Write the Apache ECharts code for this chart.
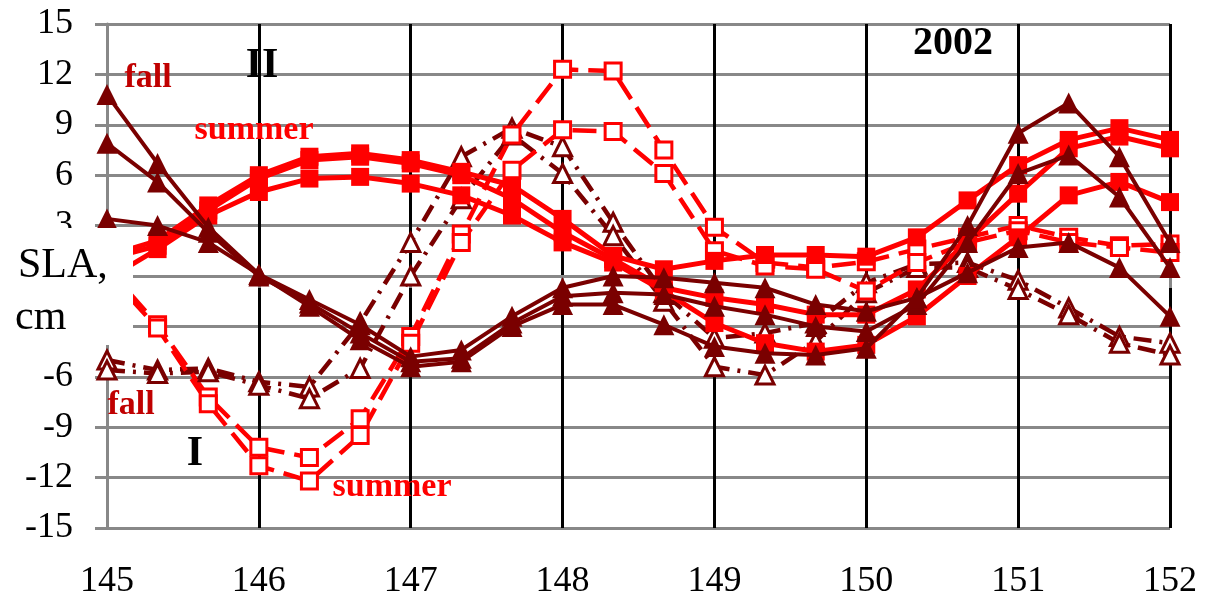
<!DOCTYPE html>
<html>
<head>
<meta charset="utf-8">
<script src="https://cdn.jsdelivr.net/npm/echarts@6/dist/echarts.min.js"></script>
<style>
html,body{margin:0;padding:0;background:#fff;}
#chart{width:1220px;height:602px;}
</style>
</head>
<body>
<div id="chart"></div>
<script>
// Longitude positions (every 1/3 degree)
const xs = [145,145.333,145.667,146,146.333,146.667,147,147.333,147.667,148,148.333,148.667,149,149.333,149.667,150,150.333,150.667,151,151.333,151.667,152];
const yTicks = [-15,-12,-9,-6,-3,0,3,6,9,12,15];

// Group II, fall (solid, filled triangles)
const fallII_1 = [10.8,6.7,2.9,0.1,-1.4,-2.9,-4.8,-4.4,-2.4,-0.7,0.0,-0.1,-0.4,-0.7,-1.7,-2.1,-1.3,3.0,8.5,10.3,7.1,2.0];
const fallII_2 = [7.9,5.6,2.6,0.0,-1.6,-3.4,-5.1,-4.9,-2.8,-1.2,-1.0,-1.1,-1.8,-2.3,-3.0,-3.3,-1.7,2.0,6.1,7.2,4.7,0.5];
const fallII_3 = [3.4,3.0,2.0,0.1,-1.8,-3.8,-5.4,-5.1,-3.0,-1.7,-1.7,-2.9,-4.2,-4.6,-4.7,-4.3,-1.3,0.2,1.7,2.0,0.5,-2.4];

// Group II, summer (solid, filled squares)
const sumII_1 = [1.2,2.1,4.2,6.0,7.1,7.3,6.9,6.2,5.4,3.4,1.2,0.4,0.9,1.25,1.25,1.15,2.3,4.5,6.6,8.1,8.8,8.1];
const sumII_2 = [1.0,1.8,3.9,5.8,6.9,7.1,6.7,6.0,4.6,2.6,1.0,-0.7,-1.3,-1.7,-2.3,-2.3,-0.8,2.1,4.9,7.6,8.3,7.6];
const sumII_3 = [-0.2,1.6,3.6,5.0,5.8,5.9,5.5,4.8,3.6,2.0,0.8,-0.9,-2.8,-4.0,-4.5,-4.1,-2.4,0.0,2.3,4.8,5.6,4.4];

// Group I, summer (dashed, open squares)
const sumI_1 = [0.5,-2.9,-7.2,-10.2,-10.8,-8.5,-3.6,2.5,8.4,12.3,12.2,7.5,2.9,0.8,0.5,0.85,1.6,2.3,3.0,2.3,1.8,1.9];
const sumI_2 = [0.2,-3.1,-7.6,-11.3,-12.2,-9.5,-4.0,2.0,6.3,8.7,8.6,6.1,1.5,0.6,0.4,-0.9,0.8,2.0,2.7,2.0,1.7,1.4];

// Group I, fall (dash-dot, open triangles)
const fallI_1 = [-5.0,-5.6,-5.5,-6.3,-6.6,-2.8,2.0,7.1,8.8,7.7,3.2,-1.0,-3.7,-3.4,-2.8,-0.4,0.7,0.8,-0.25,-1.9,-3.6,-4.0];
const fallI_2 = [-5.6,-5.8,-5.7,-6.5,-7.3,-5.5,0.0,4.6,8.4,6.1,2.4,-1.5,-5.4,-5.9,-3.9,-1.0,0.5,0.5,-0.8,-2.3,-4.0,-4.7];

const RED = '#ff0000';
const DARK = '#7a0000';
const LABELRED = '#c00000';

function pts(arr){ return xs.map((x,i)=>[x, arr[i]]); }

function fallII(arr){
  return {type:'line', data:pts(arr), symbol:'triangle', symbolSize:21,
    lineStyle:{color:DARK,width:4}, itemStyle:{color:DARK}, z:5, animation:false};
}
function sumII(arr){
  return {type:'line', data:pts(arr), symbol:'rect', symbolSize:18,
    lineStyle:{color:RED,width:5}, itemStyle:{color:RED}, z:4, animation:false};
}
function sumI(arr){
  return {type:'line', data:pts(arr), symbol:'rect', symbolSize:16,
    lineStyle:{color:RED,width:4.5,type:[24,10]}, itemStyle:{color:'#fff',borderColor:RED,borderWidth:3}, z:3, animation:false};
}
function fallI(arr){
  return {type:'line', data:pts(arr), symbol:'triangle', symbolSize:18,
    lineStyle:{color:DARK,width:4.5,type:[18,8,3,8]}, itemStyle:{color:'#fff',borderColor:DARK,borderWidth:3}, z:3, animation:false};
}

const chart = echarts.init(document.getElementById('chart'));
const serif = '"Liberation Serif", "Times New Roman", serif';
const option = {
  animation:false,
  backgroundColor:'#fff',
  grid:{left:107, right:50, top:24, bottom:74, containLabel:false},
  xAxis:{type:'value', min:145, max:152, interval:1,
    axisLine:{show:true, lineStyle:{color:'#888', width:3}},
    axisTick:{show:true, length:12, lineStyle:{color:'#888', width:3}},
    axisLabel:{fontFamily:serif, fontSize:36, color:'#000', margin:36},
    splitLine:{show:true, lineStyle:{color:['#888','#000','#000','#000','#000','#000','#000','#000'], width:3}}
  },
  yAxis:{type:'value', min:-15, max:15, interval:3,
    axisLine:{show:true, lineStyle:{color:'#888', width:3}},
    axisTick:{show:true, length:12, lineStyle:{color:'#888', width:3}},
    axisLabel:{fontFamily:serif, fontSize:36, color:'#000', margin:34},
    splitLine:{show:true, lineStyle:{color:'#888', width:3}}
  },
  series:[
    fallI(fallI_1), fallI(fallI_2),
    sumI(sumI_1), sumI(sumI_2),
    sumII(sumII_1), sumII(sumII_2), sumII(sumII_3),
    fallII(fallII_1), fallII(fallII_2), fallII(fallII_3)
  ],
  graphic:[
    {type:'rect', left:0, top:228, z:100, shape:{width:133, height:117}, style:{fill:'#fff'}},
    {type:'text', x:18, y:266, z:101, style:{text:'SLA,', font:'42px '+serif, fill:'#000', textVerticalAlign:'middle'}},
    {type:'text', x:15, y:318, z:101, style:{text:'cm', font:'42px '+serif, fill:'#000', textVerticalAlign:'middle'}},
    {type:'text', x:148, y:78, z:101, style:{text:'fall', font:'bold 34px '+serif, fill:LABELRED, textAlign:'center', textVerticalAlign:'middle'}},
    {type:'text', x:254, y:130, z:101, style:{text:'summer', font:'bold 34px '+serif, fill:RED, textAlign:'center', textVerticalAlign:'middle'}},
    {type:'text', x:131, y:405, z:101, style:{text:'fall', font:'bold 34px '+serif, fill:LABELRED, textAlign:'center', textVerticalAlign:'middle'}},
    {type:'text', x:392, y:487, z:101, style:{text:'summer', font:'bold 34px '+serif, fill:RED, textAlign:'center', textVerticalAlign:'middle'}},
    {type:'text', x:262, y:66, z:101, style:{text:'II', font:'bold 42px '+serif, fill:'#000', textAlign:'center', textVerticalAlign:'middle'}},
    {type:'text', x:195, y:454, z:101, style:{text:'I', font:'bold 42px '+serif, fill:'#000', textAlign:'center', textVerticalAlign:'middle'}},
    {type:'text', x:953, y:44, z:101, style:{text:'2002', font:'bold 40px '+serif, fill:'#000', textAlign:'center', textVerticalAlign:'middle'}}
  ]
};
chart.setOption(option);
</script>
</body>
</html>
